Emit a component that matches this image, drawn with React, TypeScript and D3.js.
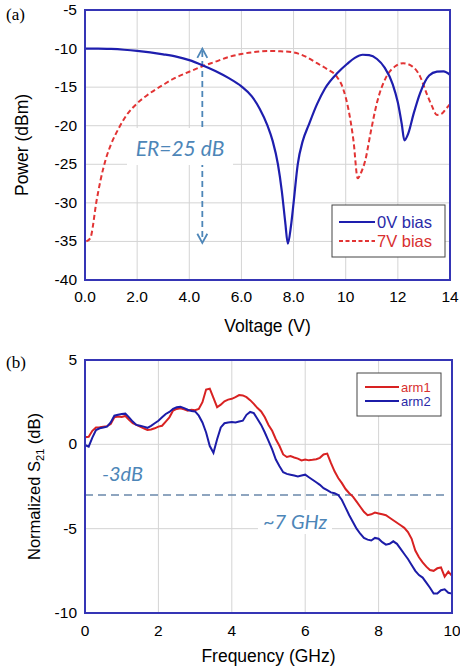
import React from 'react';
import * as d3 from 'd3';

// panel (a): optical power vs voltage
const voltTicks = [0, 2, 4, 6, 8, 10, 12, 14];
const voltTickLabels = ['0.0', '2.0', '4.0', '6.0', '8.0', '10', '12', '14'];
const powerTicks = [-5, -10, -15, -20, -25, -30, -35, -40];

const bias0V: [number, number][] = [
  [0, -10], [0.5, -10], [1, -10.05], [1.5, -10.15], [2, -10.3], [2.5, -10.5], [3, -10.75],
  [3.5, -11.05], [4, -11.5], [4.5, -12.15], [5, -12.9], [5.5, -13.8], [6, -14.9], [6.4, -16.2],
  [6.7, -17.8], [7.0, -20], [7.2, -22], [7.4, -25], [7.55, -28.5], [7.68, -32.5], [7.78, -35.3],
  [7.9, -33], [8.0, -30], [8.16, -25], [8.35, -22], [8.57, -20], [8.9, -17.2], [9.2, -15.2],
  [9.7, -13.1], [10.05, -12], [10.35, -11.2], [10.65, -10.8], [10.9, -10.85], [11.2, -11.35],
  [11.5, -12.5], [11.8, -14.6], [12.0, -17], [12.15, -19.8], [12.25, -21.9], [12.4, -21],
  [12.6, -18.5], [12.85, -15.8], [13.2, -13.5], [13.5, -13], [13.75, -12.95], [14, -13.4],
];

const bias7V: [number, number][] = [
  [0.05, -35], [0.2, -34.6], [0.45, -29.6], [0.6, -27], [0.8, -24.3], [1.0, -22.4], [1.3, -20.3],
  [1.6, -18.6], [2.0, -17.1], [2.4, -16], [3.0, -14.7], [3.4, -13.9], [4.0, -13], [4.5, -12.3],
  [5.0, -11.7], [5.5, -11.1], [6.0, -10.7], [6.5, -10.45], [7.0, -10.3], [7.5, -10.35], [8.0, -10.5],
  [8.5, -11.1], [8.9, -11.9], [9.3, -12.7], [9.65, -13.6], [9.9, -15.2], [10.1, -17.8], [10.3, -22],
  [10.46, -26.8], [10.6, -26], [10.75, -24.5], [10.95, -21], [11.2, -17], [11.55, -13.7],
  [11.9, -12.3], [12.2, -11.9], [12.55, -12.3], [12.85, -13.6], [13.1, -15.8], [13.3, -17.4],
  [13.5, -18.6], [13.7, -18.4], [13.85, -17.8], [14, -17.2],
];

// panel (b): normalized S21, sampled every 0.1 GHz from 0 to 10
const freqTicks = [0, 2, 4, 6, 8, 10];
const s21Ticks = [5, 0, -5, -10];

const arm1 = [
  0.42, 0.45, 0.8, 1.0, 1.02, 1.05, 1.08, 1.2, 1.6, 1.65,
  1.62, 1.68, 1.45, 1.25, 1.15, 1.05, 0.95, 0.85, 0.88, 0.95,
  1.05, 1.1, 1.35, 1.6, 2.0, 2.1, 2.14, 2.08, 2.0, 2.05,
  2.02, 2.1, 2.5, 3.25, 3.3, 2.75, 2.2, 2.35, 2.55, 2.65,
  2.7, 2.8, 2.92, 2.9, 2.8, 2.62, 2.4, 2.15, 1.95, 1.6,
  1.15, 0.8, 0.3, -0.1, -0.6, -0.75, -0.7, -0.78, -0.85, -0.95,
  -0.9, -0.95, -0.92, -0.88, -0.8, -0.6, -0.55, -1.1, -1.6, -2.0,
  -2.3, -2.65, -2.9, -3.1, -3.4, -3.7, -4.0, -4.2, -4.15, -4.05,
  -4.1, -4.15, -4.2, -4.35, -4.5, -4.65, -4.8, -4.95, -5.2, -5.6,
  -6.3, -6.7, -7.0, -7.25, -7.45, -7.5, -7.35, -7.3, -7.85, -7.55,
  -7.8,
];

const arm2 = [
  -0.04, -0.14, 0.4, 0.85, 0.95, 1.0, 1.05, 1.3, 1.7, 1.75,
  1.8, 1.82, 1.6, 1.35, 1.15, 1.1, 1.05, 0.98, 1.1, 1.25,
  1.4, 1.6, 1.8, 1.92, 2.1, 2.2, 2.22, 2.15, 2.05, 1.98,
  1.95, 1.7, 1.3, 0.7, -0.1, -0.5, 0.3, 1.0, 1.25, 1.3,
  1.32, 1.3, 1.35, 1.4, 1.75, 1.92, 1.85, 1.5, 1.15, 0.7,
  0.2, -0.3, -0.9, -1.3, -1.65, -1.75, -1.8, -1.85, -1.9, -1.85,
  -1.8, -1.95, -2.1, -2.25, -2.4, -2.6, -2.72, -2.85, -2.9, -3.0,
  -3.3, -3.75, -4.2, -4.6, -5.0, -5.3, -5.55, -5.65, -5.7, -5.55,
  -5.6, -5.8, -5.95, -5.9, -5.75, -5.9, -6.2, -6.5, -6.8, -7.15,
  -7.5, -7.75, -7.9, -8.2, -8.5, -8.85, -8.85, -8.65, -8.6, -8.8,
  -8.85,
];

const FRAME = '#3535b5';
const GRID = '#d4d4d4';
const NOTE = '#4d86b8';
const sans = '"Liberation Sans", Arial, sans-serif';

export default function App() {
  // ---- panel (a) scales
  const xa = d3.scaleLinear().domain([0, 14]).range([85, 450]);
  const ya = d3.scaleLinear().domain([-5, -40]).range([10, 280]);
  const lineA = d3.line<[number, number]>().x(d => xa(d[0])).y(d => ya(d[1])).curve(d3.curveMonotoneX);

  // ---- panel (b) scales
  const xb = d3.scaleLinear().domain([0, 10]).range([85, 452]);
  const yb = d3.scaleLinear().domain([5, -10]).range([360, 613]);
  const lineB = d3.line<number>().x((_, i) => xb(i / 10)).y(d => yb(d));

  const arrowX = xa(4.5);

  return (
    <svg width={460} height={670} style={{ position: 'absolute', left: 0, top: 0, background: '#fff' }}
      fontFamily={sans}>
      {/* ========== (a) ========== */}
      <text x={6} y={20} fontFamily='"Liberation Serif", serif' fontSize={17}>(a)</text>
      {voltTicks.slice(1, -1).map(t => (
        <line key={'gxa' + t} x1={xa(t)} x2={xa(t)} y1={ya(-5)} y2={ya(-40)} stroke={GRID} />
      ))}
      {powerTicks.slice(1, -1).map(t => (
        <line key={'gya' + t} x1={xa(0)} x2={xa(14)} y1={ya(t)} y2={ya(t)} stroke={GRID} />
      ))}
      {/* annotation: ER arrow */}
      <g stroke={NOTE} strokeWidth={1.8} fill="none">
        <line x1={arrowX} x2={arrowX} y1={ya(-10.3)} y2={ya(-35)} strokeDasharray="6,4" />
        <path d={`M${arrowX - 5},${ya(-11.2)} L${arrowX},${ya(-10)} L${arrowX + 5},${ya(-11.2)}`} />
        <path d={`M${arrowX - 5},${ya(-34)} L${arrowX},${ya(-35.2)} L${arrowX + 5},${ya(-34)}`} />
      </g>
      <rect x={127} y={128} width={106} height={37} fill="#fff" />
      <text x={180} y={156} textAnchor="middle" fill={NOTE} fontFamily='Lato, sans-serif'
        fontStyle="italic" fontSize={21}>ER=25 dB</text>
      <path d={lineA(bias7V) ?? ''} fill="none" stroke="#e23434" strokeWidth={2} strokeDasharray="5,3" />
      <path d={lineA(bias0V) ?? ''} fill="none" stroke="#1e1eae" strokeWidth={2.2} />
      <rect x={xa(0)} y={ya(-5)} width={xa(14) - xa(0)} height={ya(-40) - ya(-5)} fill="none"
        stroke={FRAME} strokeWidth={2} />
      {powerTicks.map(t => (
        <text key={'ya' + t} x={77} y={ya(t) + 5} textAnchor="end" fontSize={15.5}>{t}</text>
      ))}
      {voltTicks.map((t, i) => (
        <text key={'xa' + t} x={xa(t)} y={302} textAnchor="middle" fontSize={15.5}>{voltTickLabels[i]}</text>
      ))}
      <text x={(xa(0) + xa(14)) / 2} y={332} textAnchor="middle" fontSize={17.5}>Voltage (V)</text>
      <text transform={`translate(28,${(ya(-5) + ya(-40)) / 2}) rotate(-90)`} textAnchor="middle"
        fontSize={17.5}>Power (dBm)</text>
      {/* legend (a) */}
      <rect x={332} y={205} width={113} height={52} fill="#fff" stroke="#444" strokeWidth={1} />
      <line x1={339} x2={375} y1={222} y2={222} stroke="#1e1eae" strokeWidth={2} />
      <line x1={339} x2={375} y1={241} y2={241} stroke="#e23434" strokeWidth={2} strokeDasharray="4,2.5" />
      <text x={377} y={228} fontSize={16.5} fill="#2a2aa8">0V bias</text>
      <text x={377} y={247} fontSize={16.5} fill="#d83030">7V bias</text>

      {/* ========== (b) ========== */}
      <text x={6} y={368} fontFamily='"Liberation Serif", serif' fontSize={17}>(b)</text>
      {freqTicks.slice(1, -1).map(t => (
        <line key={'gxb' + t} x1={xb(t)} x2={xb(t)} y1={yb(5)} y2={yb(-10)} stroke={GRID} />
      ))}
      {s21Ticks.slice(1, -1).map(t => (
        <line key={'gyb' + t} x1={xb(0)} x2={xb(10)} y1={yb(t)} y2={yb(t)} stroke={GRID} />
      ))}
      <line x1={xb(0)} x2={445} y1={yb(-3)} y2={yb(-3)} stroke="#6a88aa" strokeWidth={1.6}
        strokeDasharray="8,5" />
      <text x={102} y={481} fill={NOTE} fontFamily='Lato, sans-serif' fontStyle="italic" fontSize={20}>-3dB</text>
      <rect x={258} y={510} width={74} height={24} fill="#fff" />
      <text x={263} y={529} fill={NOTE} fontFamily='Lato, sans-serif' fontStyle="italic" fontSize={20}>~7 GHz</text>
      <path d={lineB(arm1) ?? ''} fill="none" stroke="#d82222" strokeWidth={2} />
      <path d={lineB(arm2) ?? ''} fill="none" stroke="#1c1ca8" strokeWidth={2} />
      <rect x={xb(0)} y={yb(5)} width={xb(10) - xb(0)} height={yb(-10) - yb(5)} fill="none"
        stroke={FRAME} strokeWidth={2} />
      {s21Ticks.map(t => (
        <text key={'yb' + t} x={77} y={yb(t) + 5} textAnchor="end" fontSize={15.5}>{t}</text>
      ))}
      {freqTicks.map(t => (
        <text key={'xb' + t} x={xb(t)} y={636} textAnchor="middle" fontSize={15.5}>{t}</text>
      ))}
      <text x={(xb(0) + xb(10)) / 2} y={662} textAnchor="middle" fontSize={17.5}>Frequency (GHz)</text>
      <text transform={`translate(40,${(yb(5) + yb(-10)) / 2}) rotate(-90)`} textAnchor="middle"
        fontSize={16.5}>Normalized S<tspan fontSize={11} dy={4}>21</tspan><tspan dy={-4}> (dB)</tspan></text>
      {/* legend (b) */}
      <rect x={357} y={373} width={84} height={43} fill="#fff" stroke="#444" strokeWidth={1} />
      <line x1={365} x2={399} y1={387} y2={387} stroke="#d82222" strokeWidth={2} />
      <line x1={365} x2={399} y1={401} y2={401} stroke="#1c1ca8" strokeWidth={2} />
      <text x={401} y={391.5} fontSize={13} fill="#d83030">arm1</text>
      <text x={401} y={405.5} fontSize={13} fill="#2a2aa8">arm2</text>
    </svg>
  );
}
